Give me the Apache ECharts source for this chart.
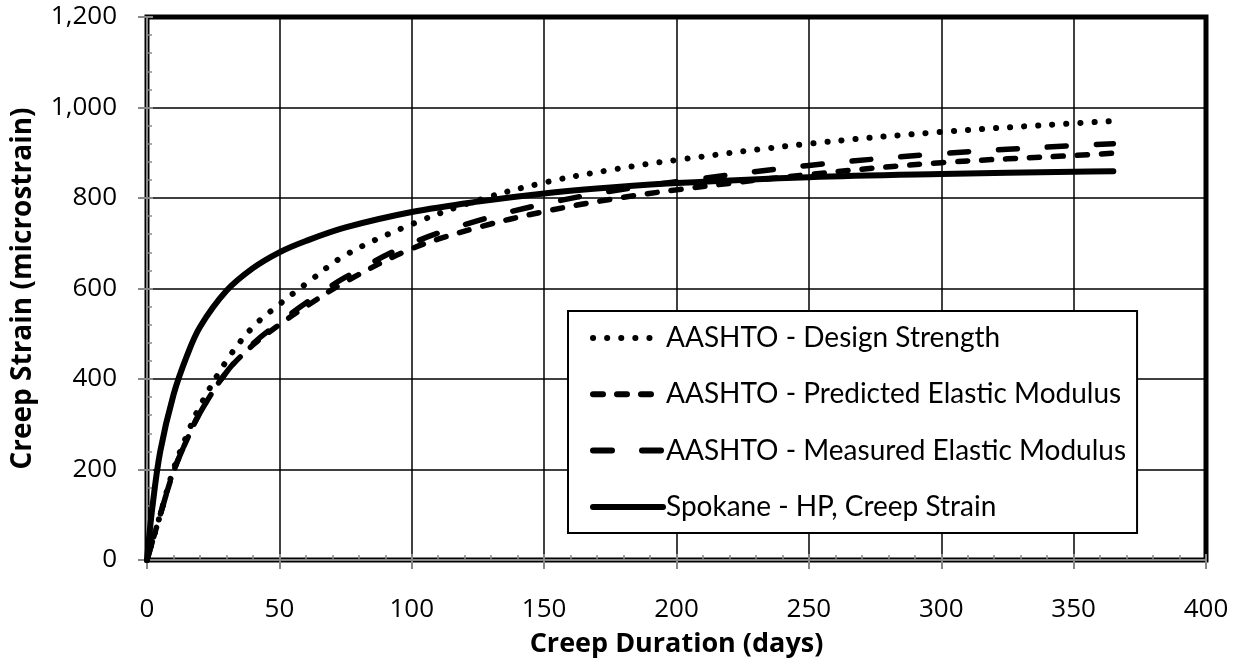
<!DOCTYPE html>
<html>
	<head>
		<meta charset="utf-8">
		<title>Creep Strain</title>
		<script src="https://cdn.jsdelivr.net/npm/echarts@6/dist/echarts.min.js"></script>
	</head>
	<body style="margin: 0;">
		<div id="box" style="width: 1241px;height: 663px;"></div>
		<script>
			// days since loading, shared by all four curves
			var days = [0, 2, 5, 10, 15, 20, 30, 40, 50, 60, 75, 100, 125, 150, 175, 200, 250, 300, 350, 365]
			var designStrength = [0, 40, 100, 200, 275, 340, 440, 515, 565, 610, 674, 742, 795, 834, 862, 884, 920, 946, 965, 970]
			var predictedModulus = [0, 40, 100, 195, 265, 325, 415, 475, 520, 560, 615, 688, 735, 770, 797, 818, 852, 878, 894, 899]
			var measuredModulus = [0, 40, 100, 195, 265, 325, 415, 478, 525, 568, 625, 700, 750, 787, 815, 836, 872, 898, 916, 920]
			var spokane = [0, 115, 240, 365, 450, 515, 595, 645, 680, 705, 735, 769, 792, 810, 823, 833, 846, 853, 858, 859]
			var seriesNames = ['AASHTO - Design Strength', 'AASHTO - Predicted Elastic Modulus', 'AASHTO - Measured Elastic Modulus', 'Spokane - HP, Creep Strain']

			function pairs(vals) {
				return days.map(function(d, i) { return [d, vals[i]] })
			}

			var font = 'Lato, "Open Sans", sans-serif'
			var wideFont = '"Open Sans", Lato, sans-serif'
			var mCharts = echarts.init(document.querySelector('#box'))

			function curve(name, vals, dash, width) {
				return {
					type: 'line',
					name: name,
					data: pairs(vals),
					symbol: 'none',
					smooth: 0.35,
					lineStyle: { color: '#000', width: width, type: dash, cap: 'round', join: 'round' },
					itemStyle: { color: '#000', opacity: 0 }
				}
			}

			var option = {
				animation: false,
				backgroundColor: '#fff',
				grid: {
					left: 147, right: 35, top: 17, bottom: 103,
					outerBoundsMode: 'none',  // keep the plot box fixed
					show: true, borderColor: '#000', borderWidth: 5
				},
				legend: {
					orient: 'vertical',
					left: 568, top: 311,
					data: seriesNames,
					backgroundColor: '#fff',
					borderColor: '#000',
					borderWidth: 2,
					borderRadius: 0,
					padding: [13, 11, 12, 22],
					itemGap: 28.3,
					itemWidth: 70,
					itemHeight: 14,
					itemStyle: { opacity: 0 },
					lineStyle: { width: 6 },
					textStyle: { fontFamily: font, fontSize: 28, color: '#000', padding: [0, 0, 0, -2] }
				},
				xAxis: [{
					type: 'value',
					min: 0, max: 400, interval: 50,
					name: 'Creep Duration (days)',
					nameLocation: 'middle',
					nameGap: 71,
					nameTextStyle: { fontFamily: wideFont, fontSize: 27, fontWeight: 'bold', color: '#000' },
					axisLine: { show: true, onZero: false, lineStyle: { color: '#888', width: 2 } },
					axisTick: { show: true, inside: true, length: 6, lineStyle: { color: '#888', width: 2 } },
					minorTick: { show: true, splitNumber: 5, length: 5, lineStyle: { color: '#888', width: 1.5 } },
					axisLabel: { fontFamily: wideFont, fontSize: 26, color: '#000', margin: 37 },
					splitLine: { show: true, lineStyle: { color: '#000', width: 1.5 } }
				}, {
					// outer half of the major ticks
					type: 'value',
					min: 0, max: 400, interval: 50,
					position: 'bottom',
					axisLine: { show: false },
					axisTick: { show: true, inside: false, length: 9, lineStyle: { color: '#888', width: 2 } },
					axisLabel: { show: false },
					splitLine: { show: false }
				}],
				yAxis: [{
					type: 'value',
					min: 0, max: 1200, interval: 200,
					name: 'Creep Strain (microstrain)',
					nameLocation: 'middle',
					nameGap: 110,
					nameTextStyle: { fontFamily: wideFont, fontSize: 28, fontWeight: 'bold', color: '#000' },
					axisLine: { show: true, onZero: false, lineStyle: { color: '#888', width: 2 } },
					axisTick: { show: true, inside: true, length: 6, lineStyle: { color: '#888', width: 2 } },
					minorTick: { show: true, splitNumber: 5, length: 5, lineStyle: { color: '#888', width: 1.5 } },
					axisLabel: {
						fontFamily: wideFont, fontSize: 26, color: '#000', margin: 30,
						formatter: function(v) { return v.toLocaleString('en-US') }
					},
					splitLine: { show: true, lineStyle: { color: '#000', width: 1.5 } }
				}, {
					type: 'value',
					min: 0, max: 1200, interval: 200,
					position: 'left',
					axisLine: { show: false },
					axisTick: { show: true, inside: false, length: 9, lineStyle: { color: '#888', width: 2 } },
					axisLabel: { show: false },
					splitLine: { show: false }
				}],
				series: [
					curve(seriesNames[0], designStrength, [0.1, 14], 6),
					curve(seriesNames[1], predictedModulus, [10, 14], 5.5),
					curve(seriesNames[2], measuredModulus, [19, 30], 5.5),
					curve(seriesNames[3], spokane, 'solid', 6)
				]
			}
			mCharts.setOption(option)
		</script>
	</body>
</html>
